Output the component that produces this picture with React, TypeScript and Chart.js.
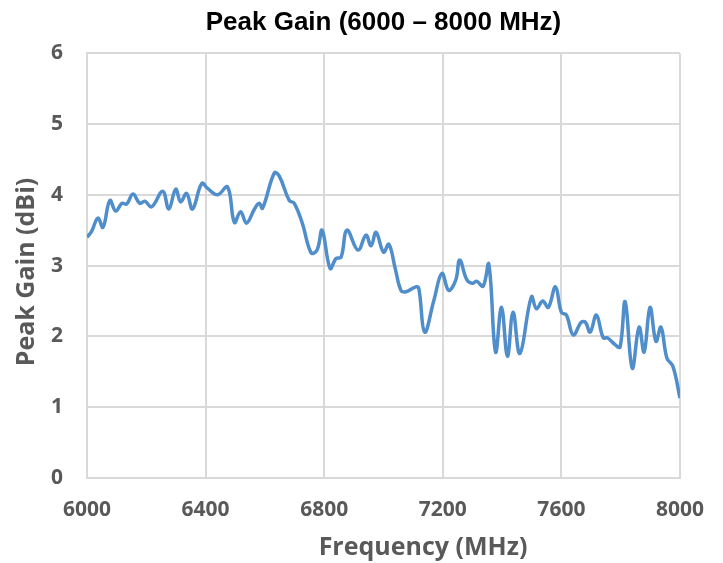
import React, { useEffect, useRef } from "react";
import { Chart, registerables } from "chart.js";

Chart.register(...registerables);

const chartTitle = "Peak Gain (6000 – 8000 MHz)";
const xTitle = "Frequency (MHz)";
const yTitle = "Peak Gain (dBi)";

const frequencies = [
  6000, 6015, 6037, 6054, 6077, 6097, 6118, 6134, 6155, 6178, 6195, 6218, 6255, 6276, 6299, 6316,
  6336, 6356, 6387, 6407, 6440, 6474, 6497, 6518, 6538, 6565, 6581, 6592, 6632, 6649, 6682, 6699,
  6726, 6756, 6776, 6793, 6820, 6840, 6857, 6877, 6914, 6941, 6958, 6975, 7000, 7018, 7040, 7059,
  7076, 7109, 7119, 7139, 7170, 7197, 7220, 7244, 7257, 7281, 7300, 7314, 7336, 7355, 7378, 7398,
  7418, 7437, 7460, 7499, 7516, 7537, 7556, 7580, 7600, 7617, 7640, 7667, 7681, 7697, 7718, 7741,
  7755, 7782, 7798, 7815, 7839, 7862, 7879, 7899, 7919, 7936, 7956, 7976, 8000,
];

const gains = [
  3.4, 3.48, 3.67, 3.54, 3.92, 3.77, 3.88, 3.87, 4.01, 3.88, 3.91, 3.83, 4.05, 3.8, 4.08, 3.9,
  4.02, 3.8, 4.16, 4.09, 4.0, 4.11, 3.61, 3.76, 3.6, 3.8, 3.88, 3.81, 4.31, 4.26, 3.92, 3.88,
  3.6, 3.18, 3.22, 3.5, 2.96, 3.1, 3.12, 3.5, 3.22, 3.43, 3.28, 3.47, 3.19, 3.3, 2.95, 2.65,
  2.63, 2.7, 2.68, 2.06, 2.51, 2.89, 2.65, 2.8, 3.08, 2.8, 2.75, 2.78, 2.71, 3.02, 1.78, 2.41,
  1.72, 2.34, 1.76, 2.56, 2.39, 2.5, 2.41, 2.7, 2.34, 2.3, 2.02, 2.2, 2.2, 2.06, 2.3, 1.98,
  1.98, 1.88, 1.85, 2.49, 1.55, 2.13, 1.78, 2.41, 1.93, 2.13, 1.69, 1.58, 1.13,
];

const xMin = 6000;
const xMax = 8000;
const xStep = 400;
const yMin = 0;
const yMax = 6;
const yStep = 1;

const axisTitlePlugin = {
  id: "axisTitles",
  afterDraw(chart: any) {
    const ctx = chart.ctx;
    ctx.save();
    ctx.fillStyle = "#595959";
    ctx.font = "bold 25px 'Open Sans'";
    ctx.textAlign = "center";
    ctx.textBaseline = "middle";
    ctx.fillText(xTitle, 423, 548);
    ctx.translate(27, 272);
    ctx.rotate(-Math.PI / 2);
    ctx.fillText(yTitle, 0, 0);
    ctx.restore();
  },
};

export default function App() {
  const ref = useRef<HTMLCanvasElement | null>(null);
  useEffect(() => {
    if (!ref.current) return;
    const tickFont = { family: "'Open Sans'", size: 21, weight: "bold" as const };
    const chart = new Chart(ref.current, {
      type: "line",
      data: {
        datasets: [
          {
            label: "Peak Gain",
            data: frequencies.map((f, i) => ({ x: f, y: gains[i] })),
            borderColor: "#4F8DCB",
            borderWidth: 3.5,
            pointRadius: 0,
            tension: 0.4,
            fill: false,
          },
        ],
      },
      options: {
        animation: false,
        responsive: true,
        maintainAspectRatio: false,
        layout: { padding: { left: 0, right: 41, top: 0, bottom: 0 } },
        plugins: {
          legend: { display: false },
          tooltip: { enabled: false },
          title: {
            display: true,
            text: chartTitle,
            fullSize: false,
            color: "#000000",
            font: { family: "'Liberation Sans'", size: 26, weight: "bold" },
            padding: { top: 7, bottom: 15 },
          },
        },
        scales: {
          x: {
            type: "linear",
            min: xMin,
            max: xMax,
            ticks: {
              stepSize: xStep,
              font: tickFont,
              color: "#595959",
              padding: 19,
              maxRotation: 0,
              callback: (v: any) => String(v),
            },
            grid: { color: "#d9d9d9", lineWidth: 2, drawTicks: false },
            border: { color: "#d9d9d9", width: 2 },
            afterFit: (s: any) => {
              s.height = 85;
            },
          },
          y: {
            min: yMin,
            max: yMax,
            ticks: { stepSize: yStep, font: tickFont, color: "#595959", padding: 24 },
            grid: { color: "#d9d9d9", lineWidth: 2, drawTicks: false },
            border: { color: "#d9d9d9", width: 2 },
            afterFit: (s: any) => {
              s.width = 87;
            },
          },
        },
      },
      plugins: [axisTitlePlugin],
    });
    return () => chart.destroy();
  }, []);
  return (
    <div style={{ position: "fixed", left: 0, top: 0, width: 723, height: 563, background: "#fff" }}>
      <canvas ref={ref} />
    </div>
  );
}
